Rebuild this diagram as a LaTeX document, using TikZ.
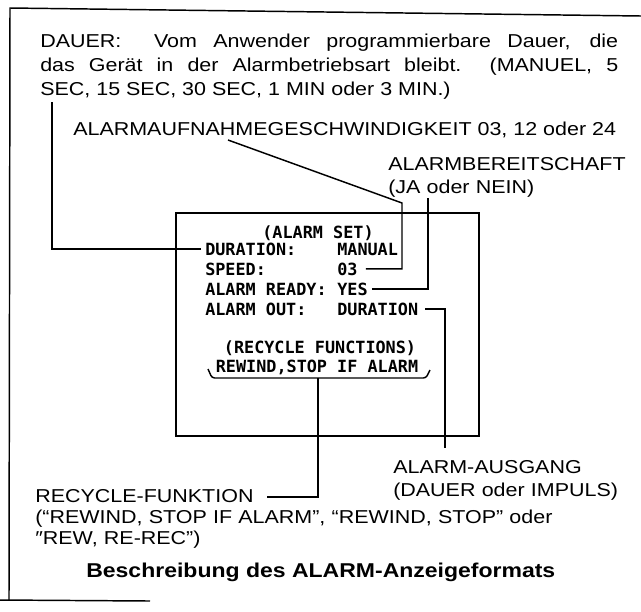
\documentclass[tikz,border=0pt]{standalone}
\usepackage{fontspec}
\setmainfont{Liberation Sans}[FakeStretch=1.15]
\newfontfamily\osdfont{DejaVu Sans Mono}
\usetikzlibrary{positioning}

\begin{document}
\begin{tikzpicture}[
        x=0.75pt, y=-0.75pt,
        leitung/.style={line width=1.1pt, draw=black},
        hinweis/.style={
            anchor=base west,
            inner sep=0pt,
            align=left,
            font=\fontsize{14}{18}\selectfont
        },
        anzeige/.style={
            anchor=base west,
            inner sep=0pt,
            font=\osdfont\bfseries\fontsize{12.6}{14}\selectfont
        }
    ]
        \useasboundingbox (0,0) rectangle (641,611);

        % Seitenrahmen
        \draw[leitung] (0,600) -- (150,601);
        \draw[leitung] (9,600) -- (10,8) -- (641,16);

        % Erklaerungen
        \node[hinweis, text width=433.5pt, align=justify] (dauer) at (40,47) {
            DAUER:\ \ Vom Anwender programmierbare Dauer, die\linebreak
            das Gerät in der Alarmbetriebsart bleibt.\ \ (MANUEL, 5\linebreak
            SEC, 15 SEC, 30 SEC, 1 MIN oder 3 MIN.)
        };

        \node[hinweis] (speedtxt) at (73,135) {ALARMAUFNAHMEGESCHWINDIGKEIT 03, 12 oder 24};

        \node[hinweis, text width=180pt, font=\fontsize{14}{17.5}\selectfont] (readytxt) at (388,170) {
            ALARMBEREITSCHAFT\\(JA oder NEIN)
        };

        \node[hinweis, text width=180pt, font=\fontsize{14}{17.5}\selectfont] (outtxt) at (393,473) {
            ALARM-AUSGANG\\(DAUER oder IMPULS)
        };

        \node[hinweis, text width=430pt, font=\fontsize{14}{16}\selectfont] (recycletxt) at (35,502) {
            RECYCLE-FUNKTION\\
            (“REWIND, STOP IF ALARM”, “REWIND, STOP” oder\\
            ″REW, RE-REC”)
        };

        \node[hinweis, anchor=base, font=\bfseries\fontsize{15}{18}\selectfont] (titel) at (324,577) {
            Beschreibung des ALARM-Anzeigeformats
        };

        % Anzeige
        \draw[leitung] (176,213) rectangle (479,436);

        \node[anzeige, anchor=base] (kopf) at (318,238) {(ALARM SET)};
        \node[anzeige] (lduration) at (205,255) {DURATION:};
        \node[anzeige] (vmanual) at (337,255) {MANUAL};
        \node[anzeige] (lspeed) at (205,275) {SPEED:};
        \node[anzeige] (v03) at (337,275) {03};
        \node[anzeige] (lready) at (205,295) {ALARM READY:};
        \node[anzeige] (vyes) at (337,295) {YES};
        \node[anzeige] (lout) at (205,315) {ALARM OUT:};
        \node[anzeige] (vout) at (337,315) {DURATION};

        \node[anzeige, anchor=base] (recyclekopf) at (320,353) {(RECYCLE FUNCTIONS)};
        \node[anzeige, anchor=base] (recyclewert) at (317,372) {REWIND,STOP IF ALARM};
        \draw[leitung, rounded corners=2pt] (208,369) -- (212,378) -- (426,378) -- (430,370);
        \coordinate (klammer) at (318,378);

        % Verbindungen
        \coordinate (dauerfuss) at (52,102);
        \coordinate (speedfuss) at (228,140);
        \coordinate (speedknick) at (402,203);
        \coordinate (readyfuss) at (428,198);
        \coordinate (outfuss) at (445,448);
        \coordinate (recyclefuss) at (267,497);

        \draw[leitung] ([xshift=-3pt]lduration.west) -| (dauerfuss);
        \draw[leitung] (speedfuss) -- (speedknick) |- ([xshift=6pt]v03.east);
        \draw[leitung] ([xshift=3pt]vyes.east) -| (readyfuss);
        \draw[leitung] ([xshift=5pt]vout.east) -| (outfuss);
        \draw[leitung] (klammer) |- (recyclefuss);
    \end{tikzpicture}
\end{document}
